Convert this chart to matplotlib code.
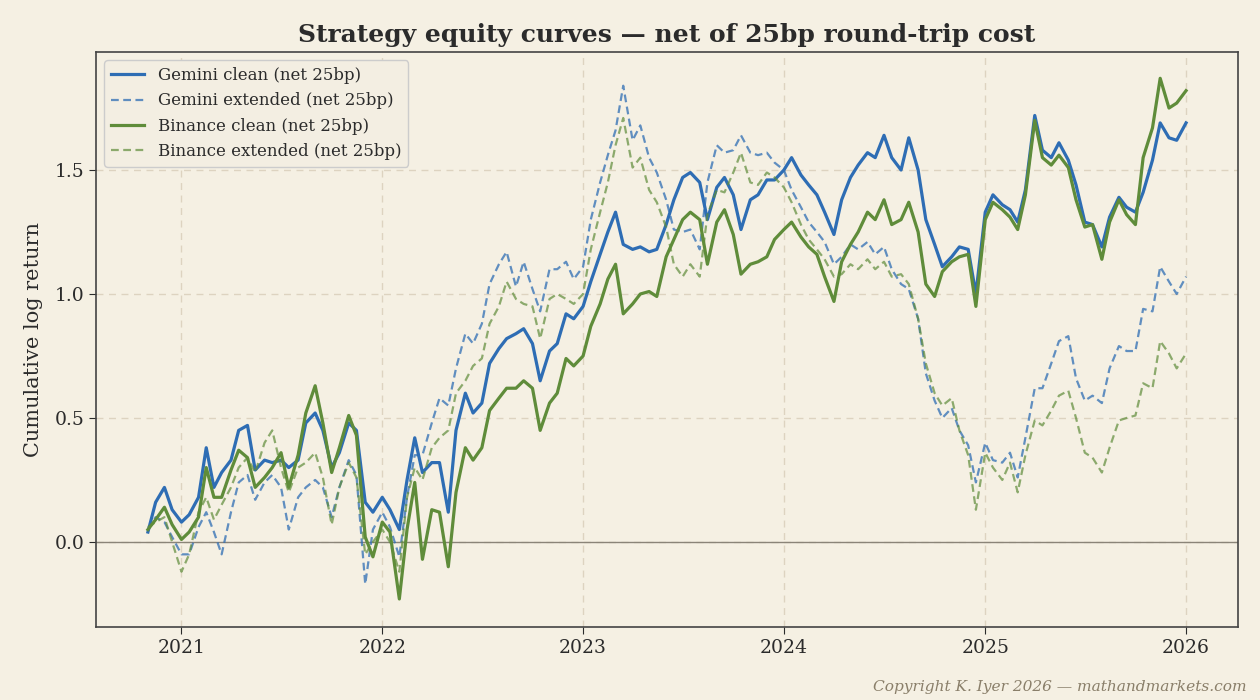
import matplotlib
matplotlib.use("Agg")
import matplotlib.pyplot as plt
import pandas as pd

# semimonthly sample dates (1st and 15th), Nov 2020 -> Jan 2026
fechas = pd.date_range("2020-11-01", "2026-01-01", freq="SMS")

gemini_clean = [
    0.04, 0.16, 0.22, 0.13, 0.08, 0.11, 0.18, 0.38, 0.22, 0.28,
    0.33, 0.45, 0.47, 0.29, 0.33, 0.32, 0.33, 0.30, 0.33, 0.48,
    0.52, 0.45, 0.30, 0.36, 0.48, 0.45, 0.16, 0.12, 0.18, 0.13,
    0.05, 0.25, 0.42, 0.28, 0.32, 0.32, 0.12, 0.45, 0.60, 0.52,
    0.56, 0.72, 0.78, 0.82, 0.84, 0.86, 0.80, 0.65, 0.77, 0.80,
    0.92, 0.90, 0.95, 1.05, 1.16, 1.25, 1.33, 1.20, 1.18, 1.19,
    1.17, 1.18, 1.28, 1.38, 1.47, 1.49, 1.45, 1.30, 1.43, 1.47,
    1.40, 1.26, 1.38, 1.40, 1.46, 1.46, 1.50, 1.55, 1.48, 1.44,
    1.40, 1.33, 1.24, 1.38, 1.47, 1.52, 1.57, 1.55, 1.64, 1.55,
    1.50, 1.63, 1.50, 1.30, 1.20, 1.11, 1.15, 1.19, 1.18, 1.00,
    1.33, 1.40, 1.36, 1.34, 1.29, 1.42, 1.72, 1.58, 1.55, 1.61,
    1.54, 1.44, 1.29, 1.28, 1.19, 1.31, 1.39, 1.35, 1.33, 1.41,
    1.54, 1.69, 1.63, 1.62, 1.69,
]
gemini_ext = [
    0.05, 0.10, 0.08, 0.02, -0.05, -0.05, 0.06, 0.12, 0.04, -0.05,
    0.12, 0.24, 0.27, 0.17, 0.24, 0.27, 0.22, 0.05, 0.18, 0.22,
    0.25, 0.22, 0.10, 0.22, 0.33, 0.27, -0.17, 0.05, 0.12, 0.06,
    -0.06, 0.18, 0.35, 0.35, 0.48, 0.58, 0.55, 0.70, 0.84, 0.80,
    0.88, 1.04, 1.12, 1.17, 1.03, 1.13, 1.02, 0.93, 1.10, 1.10,
    1.13, 1.06, 1.11, 1.30, 1.45, 1.56, 1.66, 1.84, 1.62, 1.68,
    1.55, 1.49, 1.38, 1.26, 1.25, 1.26, 1.18, 1.45, 1.60, 1.57,
    1.58, 1.64, 1.57, 1.56, 1.57, 1.53, 1.50, 1.42, 1.35, 1.29,
    1.25, 1.21, 1.12, 1.15, 1.20, 1.18, 1.21, 1.16, 1.19, 1.10,
    1.04, 1.02, 0.90, 0.68, 0.57, 0.50, 0.54, 0.45, 0.39, 0.24,
    0.40, 0.33, 0.32, 0.36, 0.26, 0.42, 0.62, 0.62, 0.72, 0.81,
    0.83, 0.66, 0.57, 0.59, 0.56, 0.70, 0.79, 0.77, 0.77, 0.94,
    0.93, 1.11, 1.05, 1.00, 1.07,
]
binance_clean = [
    0.05, 0.09, 0.14, 0.07, 0.01, 0.04, 0.10, 0.30, 0.18, 0.18,
    0.29, 0.37, 0.34, 0.22, 0.26, 0.30, 0.36, 0.22, 0.35, 0.52,
    0.63, 0.48, 0.28, 0.38, 0.51, 0.43, 0.02, -0.06, 0.08, 0.04,
    -0.23, 0.05, 0.24, -0.07, 0.13, 0.12, -0.10, 0.20, 0.38, 0.33,
    0.38, 0.53, 0.58, 0.62, 0.62, 0.65, 0.62, 0.45, 0.56, 0.60,
    0.74, 0.71, 0.75, 0.87, 0.96, 1.06, 1.12, 0.92, 0.96, 1.00,
    1.01, 0.99, 1.15, 1.22, 1.30, 1.33, 1.30, 1.12, 1.29, 1.34,
    1.24, 1.08, 1.12, 1.13, 1.15, 1.22, 1.26, 1.29, 1.23, 1.19,
    1.16, 1.07, 0.97, 1.13, 1.20, 1.25, 1.33, 1.30, 1.38, 1.28,
    1.30, 1.37, 1.25, 1.04, 0.99, 1.09, 1.13, 1.15, 1.16, 0.95,
    1.30, 1.37, 1.34, 1.31, 1.26, 1.40, 1.70, 1.55, 1.52, 1.56,
    1.51, 1.38, 1.27, 1.28, 1.14, 1.29, 1.38, 1.32, 1.28, 1.55,
    1.67, 1.87, 1.75, 1.77, 1.82,
]
binance_ext = [
    0.06, 0.08, 0.10, 0.00, -0.12, -0.05, 0.12, 0.18, 0.09, 0.15,
    0.22, 0.30, 0.34, 0.28, 0.40, 0.45, 0.30, 0.20, 0.30, 0.32,
    0.36, 0.26, 0.07, 0.22, 0.32, 0.26, -0.05, 0.00, 0.05, 0.00,
    -0.12, 0.18, 0.30, 0.25, 0.38, 0.42, 0.45, 0.60, 0.65, 0.71,
    0.74, 0.88, 0.95, 1.05, 0.98, 0.96, 0.95, 0.82, 0.98, 1.00,
    0.98, 0.96, 1.00, 1.18, 1.33, 1.45, 1.60, 1.71, 1.51, 1.55,
    1.42, 1.37, 1.27, 1.12, 1.07, 1.12, 1.07, 1.32, 1.42, 1.41,
    1.49, 1.57, 1.45, 1.44, 1.49, 1.47, 1.43, 1.37, 1.28, 1.22,
    1.18, 1.14, 1.07, 1.08, 1.12, 1.10, 1.14, 1.10, 1.13, 1.07,
    1.08, 1.04, 0.90, 0.72, 0.60, 0.55, 0.58, 0.45, 0.35, 0.13,
    0.36, 0.30, 0.25, 0.32, 0.20, 0.35, 0.49, 0.47, 0.53, 0.59,
    0.61, 0.50, 0.36, 0.34, 0.28, 0.38, 0.49, 0.50, 0.51, 0.64,
    0.62, 0.81, 0.76, 0.70, 0.76,
]

fondo = "#f5f0e3"
azul = "#2e6db4"
verde = "#5f8c3a"

plt.rcParams["font.family"] = ["DejaVu Serif"]

fig = plt.figure(figsize=(12.6, 7), dpi=100, facecolor=fondo)
ax = fig.add_axes([0.0762, 0.1043, 0.9063, 0.8214])
ax.set_facecolor(fondo)

ax.plot(fechas, gemini_clean, color=azul, lw=2.3, label="Gemini clean (net 25bp)")
ax.plot(fechas, gemini_ext, color=azul, lw=1.6, ls=(0, (3.5, 2)), alpha=0.75,
        label="Gemini extended (net 25bp)")
ax.plot(fechas, binance_clean, color=verde, lw=2.3, label="Binance clean (net 25bp)")
ax.plot(fechas, binance_ext, color=verde, lw=1.6, ls=(0, (3.5, 2)), alpha=0.7,
        label="Binance extended (net 25bp)")
ax.axhline(0, color="#8a8478", lw=1.0, zorder=1)

ax.set_ylim(-0.343, 1.976)
ax.grid(True, ls=(0, (5, 4)), color="#ddd3c0", lw=1.0)
ax.set_axisbelow(True)
for s in ax.spines.values():
    s.set_color("#444444")
    s.set_linewidth(1.2)
ax.tick_params(labelsize=13.5, colors="#2b2b2b", length=5)
ax.set_yticks([0.0, 0.5, 1.0, 1.5])
ax.set_ylabel("Cumulative log return", fontsize=15, color="#2b2b2b", labelpad=8)
ax.set_title("Strategy equity curves \u2014 net of 25bp round-trip cost",
             fontsize=18, fontweight="bold", color="#2b2b2b", pad=7)

leg = ax.legend(loc="upper left", fontsize=12, frameon=True, fancybox=True,
                facecolor="#f3eee2", edgecolor="#cccccc", framealpha=1.0)
for t in leg.get_texts():
    t.set_color("#2b2b2b")

fig.text(0.9897, 0.0186, "Copyright K. Iyer 2026 \u2014 mathandmarkets.com",
         ha="right", va="center", fontsize=11.1, style="italic", color="#8a7f6a")

fig.savefig("out.png", dpi=100, facecolor=fondo)
